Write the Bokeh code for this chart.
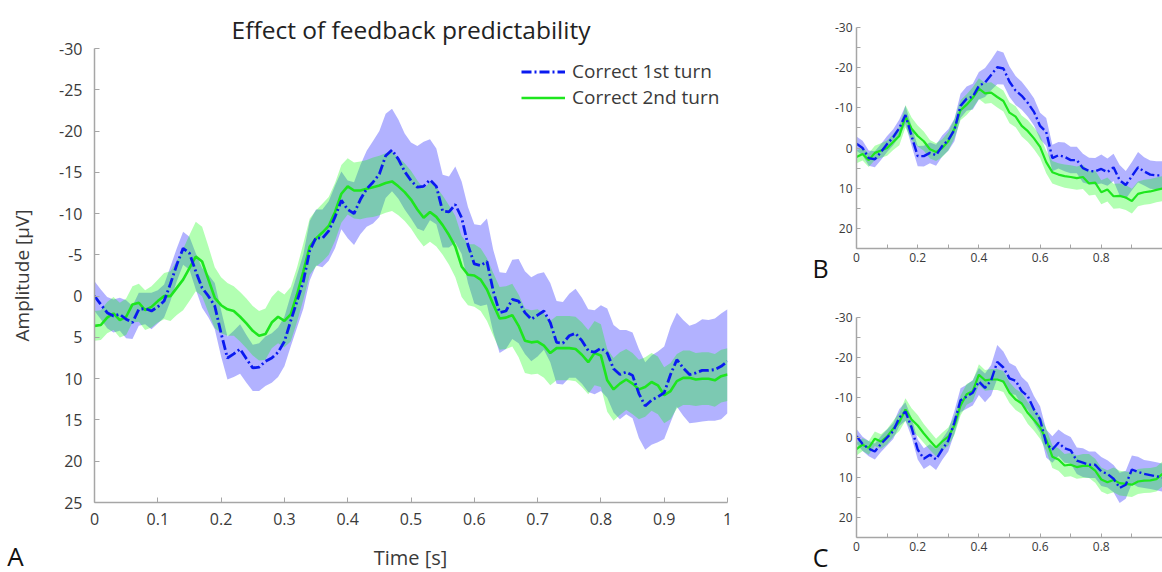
import numpy as np
from bokeh.plotting import figure
from bokeh.models import Range1d, FixedTicker, PrintfTickFormatter, Label, Legend, LegendItem, Title
from bokeh.layouts import row, column
from bokeh.embed import file_html
from bokeh.resources import INLINE

# ---------------- data ----------------
time_a = np.linspace(0, 1, 101)
time_bc = np.linspace(0, 1, 51)

a_first = [0.0, 1.0, 2.0, 2.4, 2.2, 2.8, 3.2, 1.6, 1.5, 1.8,
           1.3, 0.6, -1.5, -3.8, -5.8, -5.2, -3.0, -1.0, 0.0, 1.2,
           4.5, 7.5, 7.0, 6.4, 7.6, 8.7, 8.6, 7.9, 7.5, 6.8,
           5.5, 3.0, 0.6, -1.8, -5.5, -7.1, -7.0, -7.9, -9.6, -11.6,
           -10.5, -10.0, -11.7, -13.0, -13.8, -14.8, -17.0, -17.7, -16.6, -15.1,
           -14.0, -13.2, -13.3, -14.1, -13.3, -10.3, -10.2, -11.1, -9.5, -6.2,
           -3.9, -3.7, -4.2, -0.6, 2.0, 1.8, 0.4, 0.6, 2.0, 2.8,
           2.3, 1.8, 3.2, 5.6, 5.7, 4.8, 4.5, 5.4, 6.6, 6.8,
           6.3, 6.9, 8.8, 9.5, 9.2, 9.6, 11.8, 13.3, 12.6, 12.2,
           11.7, 9.5, 7.7, 8.7, 9.5, 9.3, 9.0, 9.0, 8.9, 8.5,
           7.9]
a_second = [3.6, 3.5, 2.6, 2.1, 2.9, 2.5, 1.0, 0.8, 1.7, 1.3,
            0.6, 0.0, 0.0, -1.0, -2.0, -3.4, -4.8, -4.2, -2.0, 0.2,
            1.1, 1.6, 1.8, 2.5, 3.3, 4.2, 4.8, 4.6, 3.2, 2.5,
            3.0, 2.2, -0.2, -3.0, -6.0, -7.0, -7.7, -8.5, -10.2, -12.4,
            -13.3, -12.8, -12.8, -13.0, -13.2, -13.4, -13.7, -13.9, -13.3, -12.6,
            -11.7, -10.5, -9.5, -10.2, -9.6, -8.6, -7.4, -6.0, -3.6, -2.6,
            -2.5, -2.0, -0.8, 1.0, 2.7, 2.6, 2.3, 3.6, 5.4, 5.6,
            5.5, 6.0, 6.9, 6.3, 6.3, 6.3, 6.4, 7.1, 8.0, 6.9,
            7.2, 10.2, 11.3, 10.6, 10.1, 10.6, 11.3, 11.0, 10.4, 10.8,
            12.0, 11.5, 10.3, 9.9, 9.9, 10.1, 10.0, 10.0, 10.2, 9.7,
            9.5]
a_first_err = [1.8, 1.8, 1.9, 2.0, 2.0, 2.3, 2.0, 2.0, 1.9, 2.2,
               2.0, 2.0, 2.1, 2.0, 2.0, 2.0, 2.2, 2.4, 2.6, 2.8,
               2.8, 2.6, 2.8, 3.0, 2.9, 2.8, 2.9, 3.0, 3.0, 3.0,
               3.0, 3.1, 3.2, 3.3, 3.6, 3.4, 3.5, 3.6, 3.8, 3.5,
               3.5, 3.8, 4.2, 4.6, 5.0, 5.2, 5.1, 5.0, 4.8, 4.6,
               4.6, 5.0, 5.4, 4.9, 4.6, 4.4, 4.3, 4.6, 4.4, 4.6,
               4.8, 4.9, 5.2, 5.0, 4.9, 4.6, 4.8, 5.1, 5.0, 5.1,
               5.0, 4.7, 4.8, 5.0, 5.0, 5.1, 5.4, 5.2, 5.0, 5.1,
               5.2, 5.4, 5.3, 5.4, 5.1, 5.2, 5.4, 5.3, 5.4, 5.5,
               5.6, 5.8, 5.7, 5.8, 5.9, 6.0, 6.2, 6.1, 6.2, 6.4,
               6.3]
a_second_err = [1.8, 1.8, 1.9, 2.0, 2.1, 2.2, 2.2, 2.3, 2.4, 2.5,
                2.6, 2.8, 3.0, 3.3, 3.7, 4.0, 4.2, 4.2, 4.0, 3.7,
                3.4, 3.2, 3.0, 3.0, 3.0, 3.0, 3.0, 3.1, 3.1, 3.2,
                3.2, 3.3, 3.3, 3.4, 3.4, 3.4, 3.5, 3.5, 3.5, 3.5,
                3.4, 3.4, 3.5, 3.5, 3.6, 3.6, 3.6, 3.6, 3.5, 3.5,
                3.5, 3.5, 3.5, 3.6, 3.6, 3.6, 3.6, 3.7, 3.7, 3.7,
                3.8, 3.8, 3.8, 3.8, 3.8, 3.8, 3.8, 3.8, 3.9, 3.9,
                3.9, 3.9, 3.9, 3.9, 3.9, 3.9, 3.9, 3.9, 3.9, 3.9,
                3.8, 3.8, 3.8, 3.8, 3.7, 3.7, 3.6, 3.6, 3.5, 3.5,
                3.4, 3.4, 3.3, 3.3, 3.3, 3.2, 3.2, 3.2, 3.2, 3.2,
                3.2]

b_first = [-1.1, 0.0, 2.5, 2.8, 1.0, -1.0, -2.7, -5.0, -8.2, -3.0,
           2.0, 2.0, 1.2, 1.8, -0.5, -2.0, -4.5, -10.5, -12.3, -12.8,
           -15.5, -16.3, -18.2, -20.1, -19.8, -16.5, -14.3, -13.0, -11.2, -9.0,
           -5.5, -4.0, 2.5, 1.8, 2.2, 3.0, 3.0, 5.0, 5.7, 5.8,
           5.2, 6.0, 4.8, 8.0, 9.2, 7.0, 4.8, 5.8, 6.6, 6.8,
           6.8]
b_second = [2.2, 1.5, 3.0, 1.2, 0.6, 0.0, -1.5, -3.0, -7.9, -4.8,
            -3.0, -1.7, 0.3, 1.0, 0.0, -1.7, -4.8, -9.4, -10.8, -12.5,
            -14.8, -13.6, -13.8, -12.7, -11.7, -8.8, -7.8, -5.5, -4.2, -2.4,
            -0.3, 3.5, 6.0, 6.6, 7.0, 7.2, 7.5, 7.2, 8.8, 8.6,
            11.0, 10.3, 12.0, 11.9, 12.3, 13.2, 11.4, 11.0, 10.8, 10.4,
            10.1]
c_first = [-0.3, 1.6, 2.8, 3.5, 1.6, 0.0, -1.6, -5.0, -6.5, -2.5,
           3.0, 5.3, 4.3, 5.5, 3.0, 0.8, -3.8, -9.3, -10.2, -11.2,
           -14.0, -12.4, -14.3, -18.9, -17.5, -14.8, -14.2, -11.6, -10.3, -7.0,
           -4.5, 1.5, 3.0, 1.3, 2.7, 3.2, 5.8, 6.3, 6.8, 6.8,
           8.5, 9.1, 10.3, 12.6, 11.8, 8.0, 8.6, 9.1, 9.4, 9.7,
           10.0]
c_second = [2.9, 1.8, 2.6, 0.3, 1.0, -0.2, -2.2, -3.9, -7.0, -4.5,
            -3.0, -1.0, 0.8, 2.5, 1.0, -0.2, -3.0, -8.0, -10.8, -11.6,
            -15.7, -14.3, -14.5, -14.5, -14.0, -11.2, -9.5, -8.5, -6.1, -4.4,
            -2.5, 0.5, 4.8, 5.5, 7.0, 6.8, 7.4, 7.1, 7.1, 8.3,
            10.5, 11.2, 10.6, 11.4, 11.6, 11.8, 11.0, 10.8, 10.7, 10.4,
            9.1]
bc_first_err = [1.8, 1.8, 1.9, 2.0, 2.0, 2.0, 2.0, 2.1, 2.3, 2.4,
                2.5, 2.6, 2.6, 2.6, 2.6, 2.7, 2.8, 3.0, 3.0, 3.2,
                3.4, 3.6, 3.8, 4.2, 4.0, 3.8, 3.6, 3.5, 3.4, 3.4,
                3.3, 3.5, 3.3, 3.3, 3.6, 3.3, 3.3, 3.6, 3.3, 3.3,
                3.6, 3.4, 3.4, 3.8, 3.5, 3.5, 3.8, 3.5, 3.5, 3.5,
                3.5]
bc_second_err = [1.6, 1.6, 1.7, 1.8, 1.8, 1.9, 2.0, 2.3, 2.8, 2.8,
                 2.6, 2.4, 2.3, 2.2, 2.2, 2.3, 2.4, 2.5, 2.6, 2.6,
                 2.6, 2.6, 2.6, 2.6, 2.6, 2.6, 2.6, 2.6, 2.7, 2.7,
                 2.8, 2.8, 2.8, 2.8, 2.9, 2.9, 2.9, 3.0, 3.0, 3.0,
                 3.0, 3.0, 3.1, 3.1, 3.1, 3.1, 3.1, 3.1, 3.1, 3.1,
                 3.1]

series_labels = ["Correct 1st turn", "Correct 2nd turn"]
a_yticks = [-30, -25, -20, -15, -10, -5, 0, 5, 10, 15, 20, 25]
a_xticks = [0, 0.1, 0.2, 0.3, 0.4, 0.5, 0.6, 0.7, 0.8, 0.9, 1.0]
bc_yticks = [-30, -20, -10, 0, 10, 20]
bc_yminor = [-25, -15, -5, 5, 15]
bc_xticks = [0, 0.2, 0.4, 0.6, 0.8]
bc_xminor = [0.1, 0.3, 0.5, 0.7, 0.9, 1.0]

# ---------------- style ----------------
FONT = "Open Sans"
BLUE = "#0a1af0"
GREEN = "#1ee61e"
BLUE_BAND = "#0000ff"
GREEN_BAND = "#00ff00"
AXIS_C = "#a6a6a6"
TEXT_C = "#3a3a3a"
DASH = "10 3 2 3"


def style_axes(p, tick_size):
    for ax in (p.xaxis[0], p.yaxis[0]):
        ax.axis_line_color = AXIS_C
        ax.axis_line_width = 1.5
        ax.major_tick_line_color = AXIS_C
        ax.minor_tick_line_color = AXIS_C
        ax.major_tick_in = 5
        ax.major_tick_out = 0
        ax.minor_tick_in = 0
        ax.minor_tick_out = 0
        ax.major_label_text_font = FONT
        ax.major_label_text_font_size = tick_size
        ax.major_label_text_color = TEXT_C
    p.xgrid.visible = False
    p.ygrid.visible = False
    p.outline_line_color = None


def draw(p, t, v1, e1, v2, e2, lw1, lw2):
    v1 = np.array(v1); e1 = np.array(e1)
    v2 = np.array(v2); e2 = np.array(e2)
    p.varea(x=t, y1=v1 - e1, y2=v1 + e1, fill_color=BLUE_BAND, fill_alpha=0.3)
    p.varea(x=t, y1=v2 - e2, y2=v2 + e2, fill_color=GREEN_BAND, fill_alpha=0.3)
    r2 = p.line(t, v2, line_color=GREEN, line_width=lw2)
    r1 = p.line(t, v1, line_color=BLUE, line_width=lw1, line_dash=DASH)
    return r1, r2


def strip(w, h):
    s = figure(frame_width=w, frame_height=h, min_border=0, x_axis_type=None, y_axis_type=None,
               toolbar_location=None, output_backend="svg",
               x_range=Range1d(0, w), y_range=Range1d(h, 0))
    s.outline_line_color = None
    return s


# ---------------- panel A ----------------
pA = figure(frame_width=633, frame_height=454, min_border_left=94, min_border_right=43,
            min_border_top=48, min_border_bottom=34, toolbar_location=None,
            output_backend="svg", x_range=Range1d(0, 1), y_range=Range1d(25, -30))
style_axes(pA, "16px")
pA.yaxis.ticker = FixedTicker(ticks=a_yticks)
pA.xaxis.ticker = FixedTicker(ticks=a_xticks)
pA.yaxis.formatter = PrintfTickFormatter(format="%d")
pA.xaxis.formatter = PrintfTickFormatter(format="%g")
pA.yaxis.major_label_standoff = 12
pA.xaxis.major_label_standoff = 10
pA.yaxis.axis_label = "Amplitude [µV]"
pA.yaxis.axis_label_text_font = FONT
pA.yaxis.axis_label_text_font_size = "19px"
pA.yaxis.axis_label_text_font_style = "normal"
pA.yaxis.axis_label_text_color = TEXT_C
pA.yaxis.axis_label_standoff = 21

pA.title = Title(text="Effect of feedback predictability", align="center", text_font=FONT,
                 text_font_size="24.5px", text_font_style="normal", text_color="#222222",
                 standoff=6)

rb, rg = draw(pA, time_a, a_first, a_first_err, a_second, a_second_err, 2.8, 2.6)

legend = Legend(items=[LegendItem(label=series_labels[0], renderers=[rb]),
                       LegendItem(label=series_labels[1], renderers=[rg])],
                location=(427, 392), border_line_color=None, background_fill_alpha=0,
                label_text_font=FONT, label_text_font_size="19px", label_text_color=TEXT_C,
                glyph_width=44, glyph_height=25, label_height=25, label_standoff=7,
                spacing=0, padding=0, margin=0)
pA.add_layout(legend)

botA = strip(770, 36)
botA.add_layout(Label(x=15, y=19, text="A", text_align="center", text_baseline="middle",
                      text_font=FONT, text_font_size="26px", text_color="#111111"))
botA.add_layout(Label(x=410, y=21, text="Time [s]", text_align="center", text_baseline="middle",
                      text_font=FONT, text_font_size="20px", text_color=TEXT_C))

letters = strip(59, 572)
letters.add_layout(Label(x=50, y=267, text="B", text_align="center", text_baseline="middle",
                         text_font=FONT, text_font_size="25px", text_color="#111111"))
letters.add_layout(Label(x=50, y=556, text="C", text_align="center", text_baseline="middle",
                         text_font=FONT, text_font_size="25px", text_color="#111111"))


# ---------------- panels B, C ----------------
def small_panel(top, fh, bottom, v1, v2):
    p = figure(frame_width=306, frame_height=fh, min_border_left=27, min_border_right=0,
               min_border_top=top, min_border_bottom=bottom, toolbar_location=None,
               output_backend="svg", x_range=Range1d(0, 1), y_range=Range1d(25, -30))
    style_axes(p, "12px")
    p.yaxis.ticker = FixedTicker(ticks=bc_yticks, minor_ticks=bc_yminor)
    p.xaxis.ticker = FixedTicker(ticks=bc_xticks, minor_ticks=bc_xminor)
    p.yaxis.formatter = PrintfTickFormatter(format="%d")
    p.xaxis.formatter = PrintfTickFormatter(format="%g")
    for ax in (p.xaxis[0], p.yaxis[0]):
        ax.major_tick_in = 4
        ax.minor_tick_in = 4
    p.yaxis.major_label_standoff = 4
    p.xaxis.major_label_standoff = 4
    draw(p, time_bc, v1, bc_first_err, v2, bc_second_err, 2.4, 2.2)
    return p


pB = small_panel(27, 221, 42, b_first, b_second)
pC = small_panel(27, 220, 35, c_first, c_second)

layout = row(column(pA, row(botA, spacing=0), spacing=0), letters,
             column(pB, pC, spacing=0), spacing=0)
open("out.html", "w").write(file_html(layout, INLINE))
